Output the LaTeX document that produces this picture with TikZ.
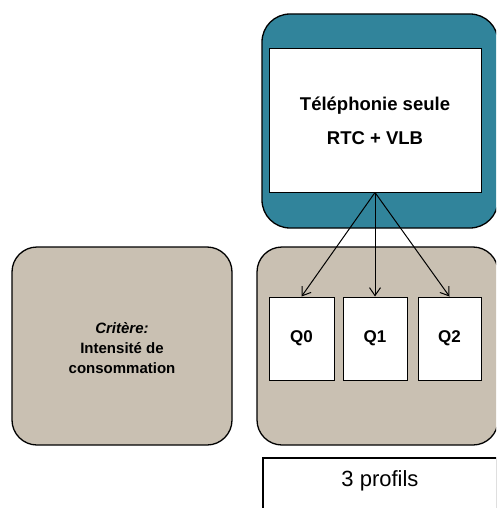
\documentclass[tikz,border=0pt]{standalone}
\usepackage{fontspec}
\setmainfont{Liberation Sans}
\usetikzlibrary{arrows.meta}
\definecolor{bleu}{RGB}{49,132,155}
\definecolor{beige}{RGB}{201,192,178}
\tikzset{
  cadre/.style={draw=black, line width=1.3pt, rounded corners=28pt},
  boite/.style={draw=black, fill=white, line width=1pt},
  fleche/.style={-{Straight Barb[length=8pt,width=11pt]}, line width=1pt}
}
\begin{document}
\begin{tikzpicture}[x=1pt,y=-1pt]
\useasboundingbox (0,0) rectangle (496,508);
\clip (0,0) rectangle (496,508);
% offre
\draw[cadre, fill=bleu] (262,14) rectangle (498,228);
\node[boite, minimum width=212pt, minimum height=143pt, align=center,
  font=\bfseries\fontsize{18.5}{34}\selectfont] (tel) at (375,120.5) {Téléphonie seule\\RTC + VLB};
% critere
\draw[cadre, fill=beige, rounded corners=25pt] (12,247) rectangle (232,445);
\node[align=center, font=\bfseries\fontsize{15}{20}\selectfont] (crit) at (122,348)
  {\textit{Critère:}\\Intensité de\\consommation};
% profils
\draw[cadre, fill=beige, rounded corners=25pt] (257,247) rectangle (498,445);
\node[boite, minimum width=65pt, minimum height=83pt, font=\bfseries\fontsize{17}{20}\selectfont] (q0) at (301.5,338.5) {Q0};
\node[boite, minimum width=64pt, minimum height=83pt, font=\bfseries\fontsize{17}{20}\selectfont] (q1) at (375,338.5) {Q1};
\node[boite, minimum width=63pt, minimum height=83pt, font=\bfseries\fontsize{17}{20}\selectfont] (q2) at (449.5,338.5) {Q2};
\draw[fleche] (tel.south) -- (q0.north);
\draw[fleche] (tel.south) -- (q1.north);
\draw[fleche] (tel.south) -- (q2.north);
% nombre
\draw[line width=1.3pt] (263,520) -- (263,458) -- (497,458) -- (497,520);
\node[font=\fontsize{22}{26}\selectfont] (nb) at (380,481) {3 profils};
\end{tikzpicture}
\end{document}
